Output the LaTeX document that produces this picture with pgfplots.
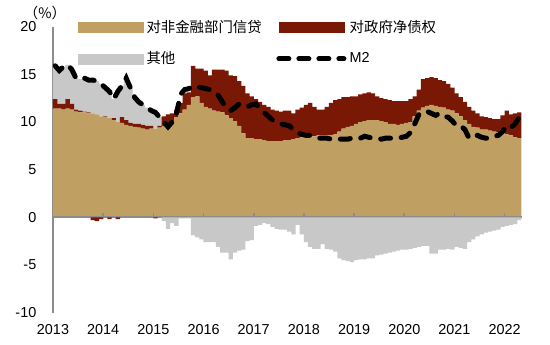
\documentclass[border=0pt]{standalone}
\usepackage{fontspec}
\setmainfont{Liberation Sans}
\newfontfamily\cjk{Noto Sans CJK SC}
\usepackage{pgfplots}
\usepackage{pgfplotstable}
\pgfplotsset{compat=1.18}
\definecolor{tanc}{RGB}{191,159,98}
\definecolor{redc}{RGB}{122,24,6}
\definecolor{grayc}{RGB}{200,200,200}
\definecolor{axgray}{RGB}{140,140,140}

\pgfplotstableread{
i tan red gray m2
0 11.4 1.0 3.5 15.9
1 11.4 0.5 3.5 15.4
2 11.3 0.6 3.9 15.8
3 11.4 1.0 3.6 16.0
4 11.3 0.6 3.6 15.5
5 11.1 0.2 3.3 14.6
6 11.0 0.2 3.3 14.5
7 11.0 0.1 3.5 14.6
8 10.9 0.1 3.4 14.4
9 10.9 -0.3 3.5 14.4
10 10.8 -0.4 3.5 14.3
11 10.6 -0.2 3.4 14.0
12 10.5 0.1 3.0 13.6
13 10.4 -0.2 2.8 13.2
14 10.2 0.2 2.0 12.4
15 10.0 -0.2 3.2 13.2
16 9.9 0.6 3.3 13.8
17 9.7 0.5 4.4 14.6
18 9.6 0.3 3.7 13.6
19 9.5 0.3 2.8 12.6
20 9.4 0.4 2.3 12.1
21 9.3 0.4 2.1 11.8
22 9.2 0.4 1.9 11.5
23 9.3 0.3 1.6 11.2
24 9.3 -0.1 1.7 11.0
25 9.4 0.2 0.9 10.5
26 9.6 1.0 -0.4 10.0
27 9.9 0.9 -1.2 9.5
28 10.1 0.8 -0.6 10.0
29 10.5 0.8 -0.9 10.8
30 10.9 1.1 -0.1 12.9
31 11.3 1.7 -0.1 13.4
32 11.8 1.3 -0.1 13.5
33 12.6 3.3 -1.9 13.8
34 12.7 2.9 -2.1 13.7
35 12.0 3.6 -2.3 13.6
36 11.6 3.8 -2.6 13.5
37 11.4 3.5 -2.6 13.4
38 11.2 4.3 -2.6 13.1
39 11.1 4.4 -3.1 12.8
40 11.0 4.5 -3.7 12.1
41 10.7 4.7 -3.7 11.4
42 10.4 4.5 -4.4 11.2
43 10.1 4.7 -3.7 11.5
44 9.6 4.7 -3.5 11.9
45 8.8 5.0 -3.4 11.8
46 8.3 4.7 -2.5 11.6
47 8.3 4.4 -2.4 11.8
48 8.2 4.2 -0.9 11.9
49 8.2 3.9 -0.8 11.4
50 8.1 3.7 -0.6 11.0
51 8.0 3.6 -0.7 10.6
52 8.0 3.3 -1.0 10.2
53 8.0 3.2 -1.2 10.0
54 8.0 3.1 -1.3 9.8
55 8.1 3.1 -1.3 9.7
56 8.1 3.1 -1.5 9.6
57 8.2 2.7 -1.8 9.2
58 8.3 3.0 -0.8 8.9
59 8.4 3.1 -1.8 8.7
60 8.4 3.4 -2.6 8.6
61 8.5 3.5 -3.1 8.6
62 8.5 3.1 -3.3 8.4
63 8.6 2.7 -3.3 8.3
64 8.6 2.7 -2.8 8.3
65 8.6 3.0 -3.3 8.3
66 8.6 3.4 -3.4 8.2
67 8.7 3.6 -3.6 8.2
68 9.0 3.4 -4.3 8.2
69 9.3 3.3 -4.5 8.2
70 9.5 3.1 -4.6 8.2
71 9.6 3.1 -4.7 8.3
72 9.8 2.9 -4.5 8.4
73 10.0 2.9 -4.4 8.3
74 10.1 2.9 -4.4 8.5
75 10.2 2.9 -4.3 8.4
76 10.2 2.8 -4.3 8.3
77 10.2 2.5 -4.0 8.3
78 10.1 2.4 -3.9 8.2
79 10.0 2.4 -3.8 8.3
80 9.8 2.5 -3.7 8.3
81 9.8 2.4 -3.6 8.3
82 9.7 2.5 -3.5 8.3
83 9.8 2.4 -3.4 8.4
84 9.9 2.3 -3.4 8.5
85 10.0 2.4 -3.3 8.9
86 10.6 2.1 -3.2 9.8
87 11.2 2.2 -3.1 10.8
88 11.5 3.0 -3.0 11.1
89 11.7 2.9 -3.0 11.1
90 11.8 2.9 -3.8 10.9
91 11.7 2.9 -3.8 10.7
92 11.6 2.8 -3.4 10.9
93 11.5 2.8 -3.4 10.6
94 11.3 2.7 -3.3 10.5
95 11.2 2.4 -3.4 10.1
96 10.9 2.1 -3.1 9.6
97 10.6 2.0 -3.2 9.6
98 10.2 1.9 -3.3 9.2
99 9.8 1.8 -2.6 8.3
100 9.5 1.7 -2.3 8.5
101 9.4 1.5 -2.0 8.6
102 9.2 1.4 -1.8 8.4
103 9.2 1.3 -1.6 8.3
104 9.1 1.3 -1.5 8.3
105 9.0 1.3 -1.4 8.5
106 8.9 1.4 -1.3 8.6
107 8.9 1.8 -1.0 9.0
108 8.7 2.5 -0.9 9.6
109 8.6 2.2 -0.8 9.4
110 8.4 2.5 -0.7 9.8
111 8.3 2.7 -0.3 10.5
}\datatab

\pgfplotsset{base/.style={scale only axis, width=351.9pt, height=214.5pt,
  xmin=-0.5, xmax=111.7, ymin=-10, ymax=20}}

\begin{document}
\begin{tikzpicture}[font=\fontsize{10.8}{13}\selectfont]
% axis 1: positive stack + decorations
\begin{axis}[base, name=main, ybar stacked, bar width=1.05,
  axis lines*=left,
  x axis line style={draw=none},
  y axis line style={draw=axgray, line width=1.5pt},
  tick style={draw=none},
  xtick={-0.5,11.5,23.5,35.5,47.5,59.5,71.5,83.5,95.5,107.5},
  xticklabels={2013,2014,2015,2016,2017,2018,2019,2020,2021,2022},
  ytick={-10,-5,0,5,10,15,20},
  /pgf/number format/assume math mode=true,
  /pgf/number format/1000 sep={},
  yticklabel style={xshift=-9pt},
  xticklabel style={yshift=-5pt},
]
\addplot[fill=tanc, draw=none] table[x=i, y=tan]{\datatab};
\addplot[fill=redc, draw=none] table[x=i, y expr={max(\thisrow{red},0)}]{\datatab};
\addplot[fill=grayc, draw=none] table[x=i, y expr={max(\thisrow{gray},0)}]{\datatab};
\end{axis}
% axis 2: negative stack + zero line
\begin{axis}[base, hide axis, ybar stacked, bar width=1.05]
\addplot[fill=redc, draw=none] table[x=i, y expr={min(\thisrow{red},0)}]{\datatab};
\addplot[fill=grayc, draw=none] table[x=i, y expr={min(\thisrow{gray},0)}]{\datatab};
\draw[axgray, line width=1.5pt] (axis cs:-0.5,0) -- (axis cs:111.7,0);
\pgfplotsinvokeforeach{11.5,23.5,35.5,47.5,59.5,71.5,83.5,95.5,107.5}{
  \draw[axgray, line width=1.2pt] (axis cs:#1,0) -- ++(0pt,3pt);
}
\end{axis}
% axis 3: M2 line + legend
\begin{axis}[base, hide axis,
  legend columns=2,
  legend cell align=left,
  legend style={at={(axis description cs:0.052,1.035)}, anchor=north west,
    draw=none, fill=none, inner sep=0pt,
    row sep=8pt,
    /tikz/every even column/.append style={column sep=8.5pt},
    nodes={inner sep=2.5pt}},
]
\addlegendimage{legend image code/.code={\fill[tanc] (0pt,-3.75pt) rectangle (48.75pt,3.75pt);}}
\addlegendentry{\cjk 对非金融部门信贷}
\addlegendimage{legend image code/.code={\fill[redc] (0pt,-3.75pt) rectangle (48.75pt,3.75pt);}}
\addlegendentry{\cjk 对政府净债权}
\addlegendimage{legend image code/.code={\fill[grayc] (0pt,-3.75pt) rectangle (48.75pt,3.75pt);}}
\addlegendentry{\cjk 其他}
\addlegendimage{legend image code/.code={\draw[black, line width=3.75pt, dash pattern=on 7.5pt off 7.5pt, line cap=round] (0pt,0pt) -- (48.75pt,0pt);}}
\addlegendentry{M2}
\addplot[black, line width=3.75pt, dash pattern=on 7.5pt off 8pt, line cap=round, sharp plot, forget plot]
  table[x=i, y=m2]{\datatab};
\end{axis}
\node at ([shift={(-6pt,10.3pt)}]main.north west) {\cjk （\%）};
\pgfresetboundingbox
\path ([shift={(-39.75pt,-23.5pt)}]main.south west) rectangle ([shift={(20.85pt,20pt)}]main.north east);
\end{tikzpicture}
\end{document}
